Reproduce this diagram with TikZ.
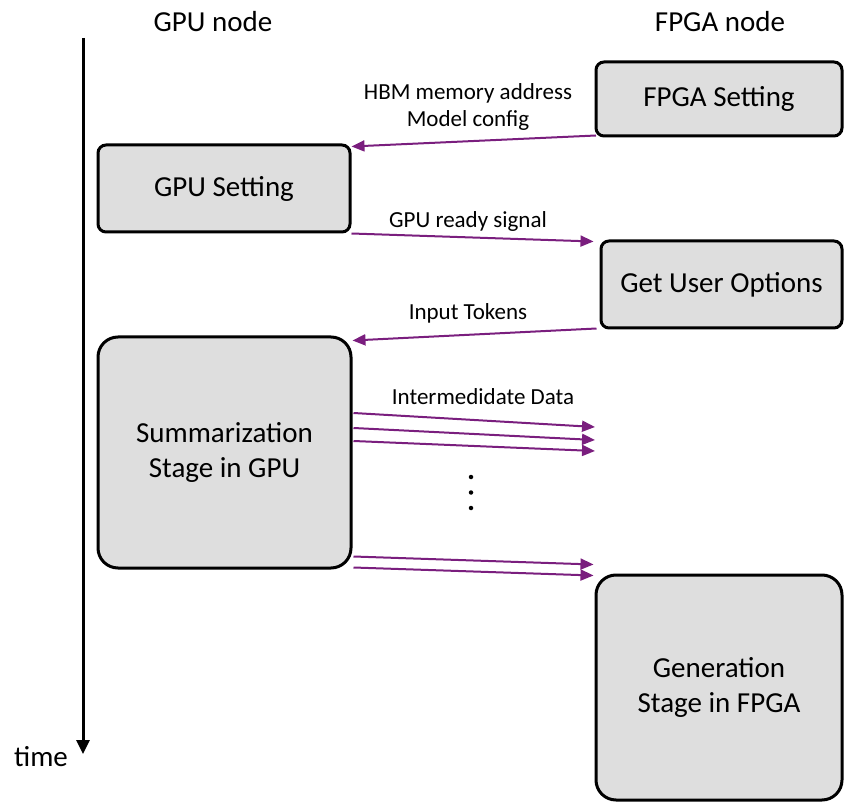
\documentclass[tikz,border=0pt]{standalone}
\usepackage{fontspec}
\setmainfont{Carlito}
\usetikzlibrary{arrows.meta,calc}

\definecolor{boxfill}{HTML}{DEDEDE}
\definecolor{msgpurple}{HTML}{7A1E7E}

\tikzset{
  stagebox/.style={draw=black, line width=3pt, fill=boxfill,
    inner sep=0pt, align=center, font=\fontsize{29}{35}\selectfont},
  smallbox/.style={stagebox, rounded corners=8pt},
  bigbox/.style={stagebox, rounded corners=20pt},
  header/.style={font=\fontsize{29}{35}\selectfont, inner sep=0pt},
  msglabel/.style={font=\fontsize{23}{27}\selectfont, inner sep=0pt, align=center},
  msg/.style={draw=msgpurple, line width=2pt,
    -{Triangle[length=13pt,width=11pt]}},
  timeline/.style={draw=black, line width=3pt,
    -{Triangle[length=14pt,width=13pt]}},
  dotmark/.style={fill=black, circle, inner sep=0pt, minimum size=4.5pt}
}

\begin{document}
\begin{tikzpicture}[x=1pt, y=-1pt]
  \useasboundingbox (0,0) rectangle (844,802);

  % column headers
  \node[header] (gpuhead) at (213,22) {GPU node};
  \node[header] (fpgahead) at (720,22) {FPGA node};

  % time axis
  \coordinate (ttop) at (83,38);
  \coordinate (tend) at (83,754);
  \draw[timeline] (ttop) -- (tend);
  \node[header] (timelbl) at (41,757) {time};

  % process boxes
  \node[smallbox, minimum width=246pt, minimum height=74pt] (fpga) at (719,99) {FPGA Setting};
  \node[smallbox, minimum width=252pt, minimum height=87pt] (gpuset) at (224,188.5) {GPU Setting};
  \node[smallbox, minimum width=241pt, minimum height=87pt] (opts) at (721.5,284.5) {Get User Options};
  \node[bigbox, minimum width=253pt, minimum height=231pt] (summ) at (224.5,452.5) {Summarization\\Stage in GPU};
  \node[bigbox, minimum width=246pt, minimum height=225pt] (gen) at (719,687.5) {Generation\\Stage in FPGA};

  % messages between the nodes
  \draw[msg] ($(fpga.south west)+(1.5,-2)$) -- ($(gpuset.north east)+(0,3)$);
  \node[msglabel] (hbm) at (468,107) {HBM memory address\\Model config};

  \draw[msg] ($(gpuset.south east)+(0,0)$) -- ($(opts.north west)+(-6,2)$);
  \node[msglabel] (ready) at (468,221) {GPU ready signal};

  \draw[msg] ($(opts.south west)+(-3,-1)$) -- ($(summ.north east)+(0,5)$);
  \node[msglabel] (tokens) at (468,313) {Input Tokens};

  % intermediate data stream
  \node[msglabel] (inter) at (483,397) {Intermedidate Data};
  \coordinate (d1) at (595,427);
  \coordinate (d2) at (595,440);
  \coordinate (d3) at (595,451);
  \draw[msg] ($(summ.east)+(1,-39.5)$) -- (d1);
  \draw[msg] ($(summ.east)+(1,-24.5)$) -- (d2);
  \draw[msg] ($(summ.east)+(1,-11.5)$) -- (d3);

  % vertical ellipsis
  \node[dotmark] (dot1) at (471,477) {};
  \node[dotmark] (dot2) at (471,492.5) {};
  \node[dotmark] (dot3) at (471,508) {};

  \draw[msg] ($(summ.south east)+(1,-13)$) -- ($(gen.north west)+(-1,-9)$);
  \draw[msg] ($(summ.south east)+(1,-2)$) -- ($(gen.north west)+(-1,2)$);
\end{tikzpicture}
\end{document}
